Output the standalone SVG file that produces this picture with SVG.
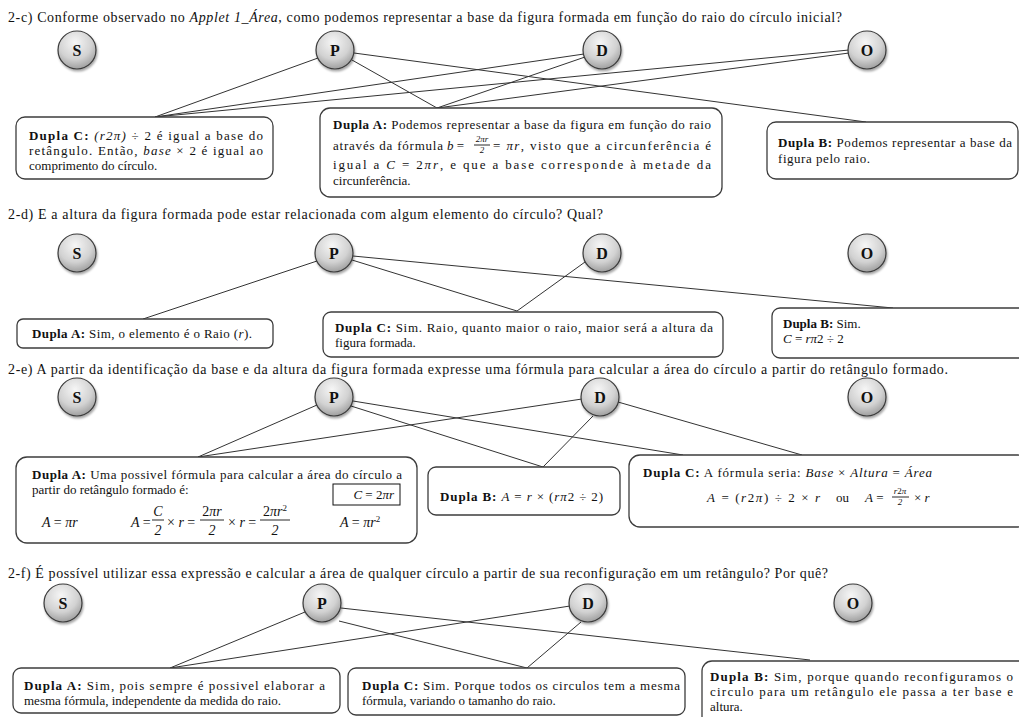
<svg xmlns="http://www.w3.org/2000/svg" width="1019" height="717" viewBox="0 0 1019 717">
<defs>
<radialGradient id="ball" cx="0.45" cy="0.3" r="0.8">
<stop offset="0" stop-color="#f6f6f6"/>
<stop offset="0.55" stop-color="#d2d2d2"/>
<stop offset="1" stop-color="#8c8c8c"/>
</radialGradient>
<filter id="sh" x="-30%" y="-30%" width="160%" height="170%">
<feDropShadow dx="1" dy="2" stdDeviation="1.3" flood-color="#000" flood-opacity="0.35"/>
</filter>
</defs>
<style>
text{font-family:"Liberation Serif","Times New Roman",serif;fill:#111}
.t{font-size:14px}
.b{font-size:13px}
.m{font-style:italic}
.sm{font-size:9px;font-style:italic}
.fm{font-size:14px;font-style:italic}
.bd{font-weight:bold}
.lbl{font-size:16px;font-weight:bold;text-anchor:middle}
.nd circle{fill:url(#ball);stroke:#3a3a3a;stroke-width:1.2;filter:url(#sh)}
.box{fill:#fff;stroke:#3c3c3c;stroke-width:1.3}
.cn line{stroke:#333;stroke-width:1}
.bar{stroke:#111;stroke-width:0.9}
</style>
<rect width="1019" height="717" fill="#fff"/>

<!-- titles -->
<text class="t" x="8" y="22" textLength="834" lengthAdjust="spacing">2-c) Conforme observado no <tspan class="m">Applet 1_Área</tspan>, como podemos representar a base da figura formada em função do raio do círculo inicial?</text>
<text class="t" x="8" y="219" textLength="595" lengthAdjust="spacing">2-d) E a altura da figura formada pode estar relacionada com algum elemento do círculo? Qual?</text>
<text class="t" x="8" y="374" textLength="940" lengthAdjust="spacing">2-e) A partir da identificação da base e da altura da figura formada expresse uma fórmula para calcular a área do círculo a partir do retângulo formado.</text>
<text class="t" x="8" y="578" textLength="820" lengthAdjust="spacing">2-f) É possível utilizar essa expressão e calcular a área de qualquer círculo a partir de sua reconfiguração em um retângulo? Por quê?</text>

<!-- connectors -->
<g id="connectors" class="cn">
<line x1="318" y1="58" x2="155" y2="117"/>
<line x1="352" y1="60" x2="437" y2="108"/>
<line x1="354" y1="53" x2="866" y2="122"/>
<line x1="584" y1="54" x2="155" y2="117"/>
<line x1="585" y1="57" x2="437" y2="108"/>
<line x1="849" y1="50" x2="155" y2="117"/>
<line x1="849" y1="53" x2="437" y2="108"/>

<line x1="317" y1="261" x2="143" y2="319"/>
<line x1="352" y1="260" x2="517" y2="311"/>
<line x1="585" y1="262" x2="517" y2="311"/>
<line x1="353" y1="256" x2="893" y2="308"/>

<line x1="317" y1="405" x2="198" y2="457"/>
<line x1="582" y1="399" x2="198" y2="457"/>
<line x1="353" y1="401" x2="683" y2="455"/>
<line x1="351" y1="406" x2="543" y2="467"/>
<line x1="593" y1="416" x2="543" y2="467"/>
<line x1="618" y1="402" x2="802" y2="455"/>

<line x1="305" y1="612" x2="170" y2="668"/>
<line x1="570" y1="606" x2="170" y2="668"/>
<line x1="339" y1="621" x2="527" y2="668"/>
<line x1="581" y1="622" x2="527" y2="668"/>
<line x1="341" y1="608" x2="810" y2="660"/>
</g>

<!-- section c nodes -->
<g id="c-S" class="nd"><circle cx="77" cy="50" r="19"/><text class="lbl" x="77" y="56">S</text></g>
<g id="c-P" class="nd"><circle cx="335" cy="50" r="19"/><text class="lbl" x="335" y="56">P</text></g>
<g id="c-D" class="nd"><circle cx="602" cy="50" r="19"/><text class="lbl" x="602" y="56">D</text></g>
<g id="c-O" class="nd"><circle cx="867" cy="50" r="19"/><text class="lbl" x="867" y="56">O</text></g>

<g id="c-duplaC">
<rect class="box" x="16" y="117" width="257" height="62" rx="9"/>
<text class="b" x="29" y="140" textLength="234" lengthAdjust="spacing"><tspan class="bd">Dupla C:</tspan> <tspan class="m">(r2π)</tspan> ÷ 2 é igual a base do</text>
<text class="b" x="29" y="155" textLength="234" lengthAdjust="spacing">retângulo. Então, <tspan class="m">base</tspan> × 2 é igual ao</text>
<text class="b" x="29" y="170">comprimento do círculo.</text>
</g>

<g id="c-duplaA">
<rect class="box" x="320" y="108" width="402" height="89" rx="10"/>
<text class="b" x="333" y="129" textLength="378" lengthAdjust="spacing"><tspan class="bd">Dupla A:</tspan> Podemos representar a base da figura em função do raio</text>
<text class="b" x="333" y="150" textLength="110" lengthAdjust="spacing">através da fórmula</text>
<text class="b" x="447" y="150"><tspan class="m">b</tspan> =</text>
<text class="sm" x="482" y="142" text-anchor="middle">2πr</text>
<line class="bar" x1="474" y1="145" x2="490" y2="145"/>
<text class="sm" x="482" y="153" text-anchor="middle" font-style="normal">2</text>
<text class="b" x="493" y="150" textLength="218" lengthAdjust="spacing">= <tspan class="m">πr</tspan>, visto que a circunferência é</text>
<text class="b" x="333" y="169" textLength="378" lengthAdjust="spacing">igual a  <tspan class="m">C</tspan> = 2<tspan class="m">πr</tspan>, e que a base corresponde à metade da</text>
<text class="b" x="333" y="185">circunferência.</text>
</g>

<g id="c-duplaB">
<rect class="box" x="767" y="122" width="251" height="57" rx="9"/>
<text class="b" x="778" y="147" textLength="234" lengthAdjust="spacing"><tspan class="bd">Dupla B:</tspan> Podemos representar a base da</text>
<text class="b" x="778" y="163" textLength="92" lengthAdjust="spacing">figura pelo raio.</text>
</g>

<!-- section d nodes -->
<g id="d-S" class="nd"><circle cx="77" cy="253" r="19"/><text class="lbl" x="77" y="259">S</text></g>
<g id="d-P" class="nd"><circle cx="334" cy="253" r="19"/><text class="lbl" x="334" y="259">P</text></g>
<g id="d-D" class="nd"><circle cx="602" cy="253" r="19"/><text class="lbl" x="602" y="259">D</text></g>
<g id="d-O" class="nd"><circle cx="867" cy="253" r="19"/><text class="lbl" x="867" y="259">O</text></g>

<g id="d-duplaA">
<rect class="box" x="17" y="319" width="256" height="29" rx="6"/>
<text class="b" x="32" y="338" textLength="220" lengthAdjust="spacing"><tspan class="bd">Dupla A:</tspan> Sim, o elemento é o Raio (<tspan class="m">r</tspan>).</text>
</g>
<g id="d-duplaC">
<rect class="box" x="323" y="312" width="400" height="45" rx="8"/>
<text class="b" x="335" y="332" textLength="378" lengthAdjust="spacing"><tspan class="bd">Dupla C:</tspan> Sim. Raio, quanto maior o raio, maior será a altura da</text>
<text class="b" x="335" y="347">figura formada.</text>
</g>
<g id="d-duplaB">
<rect class="box" x="772" y="308" width="260" height="50" rx="8"/>
<text class="b" x="783" y="328"><tspan class="bd">Dupla B:</tspan> Sim.</text>
<text class="b" x="783" y="343"><tspan class="m">C</tspan> = <tspan class="m">rπ</tspan>2 ÷ 2</text>
</g>

<!-- section e nodes -->
<g id="e-S" class="nd"><circle cx="77" cy="397" r="19"/><text class="lbl" x="77" y="403">S</text></g>
<g id="e-P" class="nd"><circle cx="334" cy="397" r="19"/><text class="lbl" x="334" y="403">P</text></g>
<g id="e-D" class="nd"><circle cx="600" cy="397" r="19"/><text class="lbl" x="600" y="403">D</text></g>
<g id="e-O" class="nd"><circle cx="867" cy="397" r="19"/><text class="lbl" x="867" y="403">O</text></g>

<g id="e-duplaA">
<rect class="box" x="16" y="457" width="401" height="86" rx="11"/>
<text class="b" x="32" y="479" textLength="370" lengthAdjust="spacing"><tspan class="bd">Dupla A:</tspan> Uma possivel fórmula para calcular a área do círculo a</text>
<text class="b" x="32" y="494">partir do retângulo formado é:</text>
<rect x="333" y="484" width="67" height="21" fill="none" stroke="#111" stroke-width="1"/>
<text class="b" x="394" y="499" text-anchor="end"><tspan class="m">C</tspan> = 2<tspan class="m">πr</tspan></text>
<text class="fm" x="42" y="527">A <tspan font-style="normal">=</tspan> πr</text>
<text class="fm" x="131" y="527">A <tspan font-style="normal">=</tspan></text>
<text class="fm" x="158" y="516" text-anchor="middle">C</text>
<line class="bar" x1="152" y1="520" x2="164" y2="520"/>
<text class="fm" x="158" y="535" text-anchor="middle" font-style="normal">2</text>
<text class="fm" x="167" y="527"><tspan font-style="normal">×</tspan> r <tspan font-style="normal">=</tspan></text>
<text class="fm" x="212" y="516" text-anchor="middle"><tspan font-style="normal">2</tspan>πr</text>
<line class="bar" x1="200" y1="520" x2="224" y2="520"/>
<text class="fm" x="212" y="535" text-anchor="middle" font-style="normal">2</text>
<text class="fm" x="228" y="527"><tspan font-style="normal">×</tspan> r <tspan font-style="normal">=</tspan></text>
<text class="fm" x="275" y="516" text-anchor="middle"><tspan font-style="normal">2</tspan>πr<tspan font-size="9" dy="-5" font-style="normal">2</tspan></text>
<line class="bar" x1="260" y1="520" x2="290" y2="520"/>
<text class="fm" x="275" y="535" text-anchor="middle" font-style="normal">2</text>
<text class="fm" x="340" y="527">A <tspan font-style="normal">=</tspan> πr<tspan font-size="9" dy="-5" font-style="normal">2</tspan></text>
</g>

<g id="e-duplaB">
<rect class="box" x="428" y="467" width="192" height="48" rx="8"/>
<text class="b" x="440" y="501" textLength="163" lengthAdjust="spacing"><tspan class="bd">Dupla B:</tspan> <tspan class="m">A</tspan> = <tspan class="m">r</tspan> × (<tspan class="m">rπ</tspan>2 ÷ 2)</text>
</g>

<g id="e-duplaC">
<rect class="box" x="629" y="455" width="400" height="72" rx="11"/>
<text class="b" x="643" y="477" textLength="289" lengthAdjust="spacing"><tspan class="bd">Dupla C:</tspan> A fórmula seria: <tspan class="m">Base</tspan> × <tspan class="m">Altura</tspan> = <tspan class="m">Área</tspan></text>
<text class="b" x="707" y="502" textLength="113" lengthAdjust="spacing"><tspan class="m">A</tspan> = (<tspan class="m">r</tspan>2<tspan class="m">π</tspan>) ÷ 2 × <tspan class="m">r</tspan></text>
<text class="b" x="836" y="502">ou</text>
<text class="b" x="865" y="502"><tspan class="m">A</tspan> =</text>
<text class="sm" x="900" y="494" text-anchor="middle">r<tspan font-style="normal">2</tspan>π</text>
<line class="bar" x1="892" y1="497" x2="909" y2="497"/>
<text class="sm" x="900" y="505" text-anchor="middle" font-style="normal">2</text>
<text class="b" x="914" y="502">× <tspan class="m">r</tspan></text>
</g>

<!-- section f nodes -->
<g id="f-S" class="nd"><circle cx="63" cy="603" r="19"/><text class="lbl" x="63" y="609">S</text></g>
<g id="f-P" class="nd"><circle cx="322" cy="603" r="19"/><text class="lbl" x="322" y="609">P</text></g>
<g id="f-D" class="nd"><circle cx="588" cy="603" r="19"/><text class="lbl" x="588" y="609">D</text></g>
<g id="f-O" class="nd"><circle cx="853" cy="603" r="19"/><text class="lbl" x="853" y="609">O</text></g>

<g id="f-duplaA">
<rect class="box" x="13" y="668" width="327" height="45" rx="8"/>
<text class="b" x="24" y="690" textLength="301" lengthAdjust="spacing"><tspan class="bd">Dupla A:</tspan> Sim, pois sempre é possivel elaborar a</text>
<text class="b" x="24" y="705">mesma fórmula, independente da medida do raio.</text>
</g>
<g id="f-duplaC">
<rect class="box" x="348" y="668" width="337" height="47" rx="8"/>
<text class="b" x="362" y="690" textLength="318" lengthAdjust="spacing"><tspan class="bd">Dupla C:</tspan> Sim. Porque todos os circulos tem a mesma</text>
<text class="b" x="362" y="705">fórmula, variando o tamanho do raio.</text>
</g>
<g id="f-duplaB">
<rect class="box" x="702" y="661" width="330" height="70" rx="10"/>
<text class="b" x="710" y="681" textLength="303" lengthAdjust="spacing"><tspan class="bd">Dupla B:</tspan> Sim, porque quando reconfiguramos o</text>
<text class="b" x="710" y="696" textLength="303" lengthAdjust="spacing">circulo para um retângulo ele passa a ter base e</text>
<text class="b" x="710" y="711">altura.</text>
</g>
</svg>
